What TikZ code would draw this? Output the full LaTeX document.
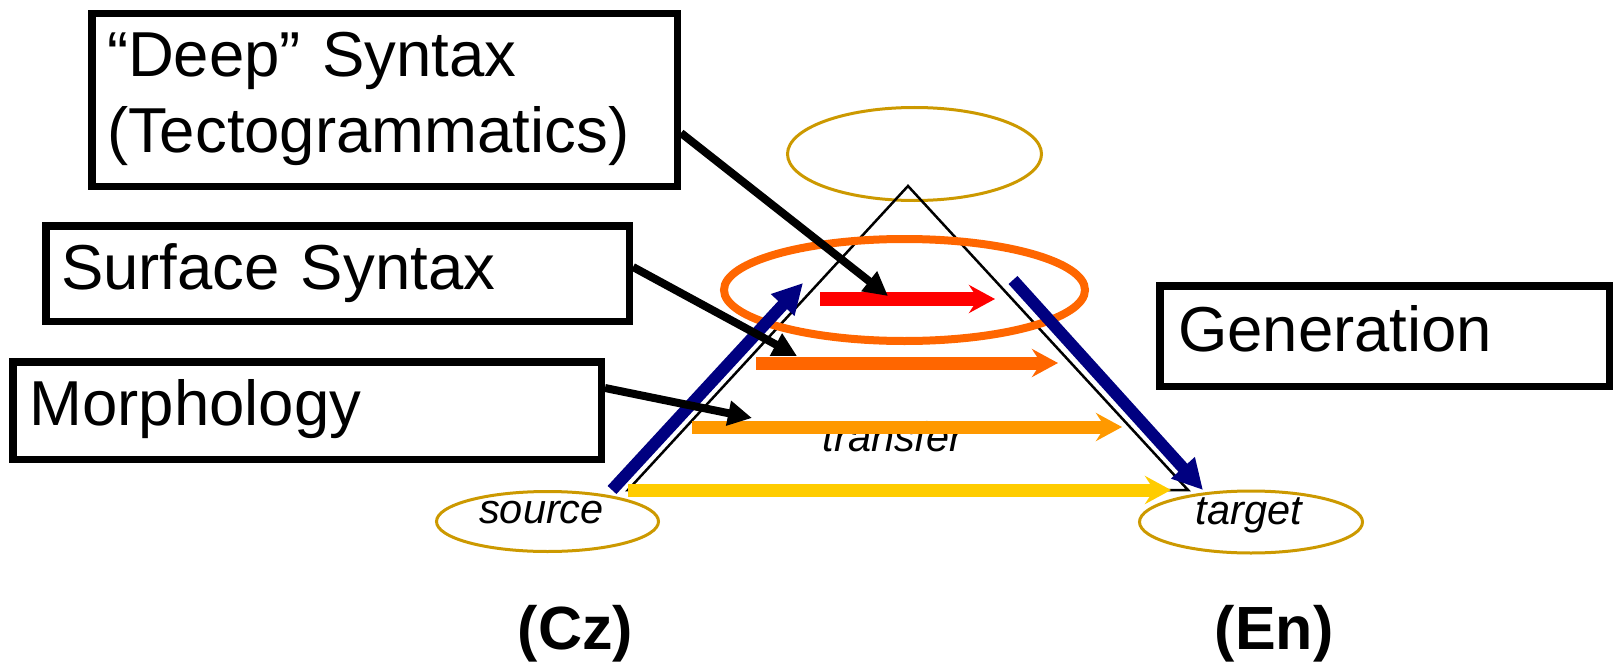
\documentclass[tikz,border=0pt]{standalone}
\usepackage{fontspec}
\setmainfont{Liberation Sans}
\usetikzlibrary{arrows.meta,shapes.geometric}
\definecolor{goldline}{RGB}{204,153,0}
\definecolor{deeporange}{RGB}{255,102,0}
\definecolor{morphorange}{RGB}{255,153,0}
\definecolor{transyellow}{RGB}{255,204,0}
\definecolor{navyblue}{RGB}{0,0,128}
\begin{document}
\begin{tikzpicture}[x=1pt,y=-1pt,
  box/.style={draw=black, line width=7.5pt, rectangle, inner ysep=0pt, align=left,
    font=\fontsize{63.5}{76}\selectfont, anchor=base west},
  goldell/.style={ellipse, draw=goldline, line width=3pt, inner sep=0pt},
  levelell/.style={ellipse, draw=deeporange, line width=8pt, inner sep=0pt},
  pointer/.style={draw=black, line width=8pt, -{Triangle[length=24pt,width=24pt]}},
  levelarrow/.style={line width=13pt, -{Stealth[length=26pt,width=28pt,inset=9pt]}},
  bluearrow/.style={draw=navyblue, line width=12pt, -{Triangle[length=30pt,width=30pt]}},
  small/.style={font=\fontsize{41.5}{50}\selectfont\itshape, inner sep=0pt, anchor=base},
  lang/.style={font=\fontsize{61}{73}\selectfont\bfseries, inner sep=0pt, anchor=base}
]
\useasboundingbox (0,0) rectangle (1616,666);

% ellipses
\node[goldell, minimum width=254pt, minimum height=93pt] (topell) at (914.5,154) {};
\node[goldell, minimum width=222pt, minimum height=60pt] (srcell) at (547.5,521.5) {};
\node[goldell, minimum width=223pt, minimum height=62pt] (tgtell) at (1251,522) {};

% triangle
\coordinate (apex) at (908,186);
\coordinate (bl) at (628,490);
\coordinate (br) at (1188,490);
\draw[line width=2.5pt, line join=miter] (bl) -- (apex) -- (br) -- cycle;

% labels
\node[small] (transfer) at (893,451) {transfer};
\node[small] (srctxt) at (541.5,523) {source};
\node[small] (tgttxt) at (1249,524) {target};
\node[lang] (cz) at (575.5,649) {(Cz)};
\node[lang] (en) at (1274,649) {(En)};

% level ellipse
\node[levelell, minimum width=361pt, minimum height=102pt] (deepell) at (904.5,290) {};

% transfer arrows
\coordinate (r1) at (820,299);  \coordinate (r2) at (995,299);
\coordinate (s1) at (756,363);  \coordinate (s2) at (1058,363);
\coordinate (m1) at (692,427);  \coordinate (m2) at (1122,427);
\coordinate (y1) at (628,490);  \coordinate (y2) at (1171,490);
\draw[levelarrow, draw=red, line width=14pt] (r1) -- (r2);
\draw[levelarrow, draw=deeporange] (s1) -- (s2);
\draw[levelarrow, draw=morphorange] (m1) -- (m2);
\draw[levelarrow, draw=transyellow] (y1) -- (y2);

% analysis / generation arrows
\coordinate (up1) at (612,490);  \coordinate (up2) at (803,283);
\coordinate (dn1) at (1013,280); \coordinate (dn2) at (1203,490);
\draw[bluearrow] (up1) -- (up2);
\draw[bluearrow] (dn1) -- (dn2);

% boxes
\node[box, inner xsep=15.25pt, text height=63.25pt, text depth=109.25pt, text width=555pt] (deep) at (88,77) {“Deep” Syntax\\(Tectogrammatics)};
\node[box, inner xsep=15.25pt, text height=63.25pt, text depth=32.25pt, text width=553pt] (surface) at (42,289) {Surface Syntax};
\node[box, inner xsep=16.75pt, text height=63.25pt, text depth=34.25pt, text width=555pt] (morph) at (9,425) {Morphology};
\node[box, inner xsep=18.25pt, text height=65.25pt, text depth=35.25pt, text width=413pt] (gen) at (1156,351) {Generation};

% pointers
\coordinate (pd) at (888,296);
\coordinate (ps) at (797,356);
\coordinate (pm) at (752,418);
\draw[pointer] ([yshift=-33pt]deep.east) -- (pd);
\draw[pointer] ([yshift=6.5pt]surface.east) -- (ps);
\draw[pointer] ([yshift=22.5pt]morph.east) -- (pm);
\end{tikzpicture}
\end{document}
